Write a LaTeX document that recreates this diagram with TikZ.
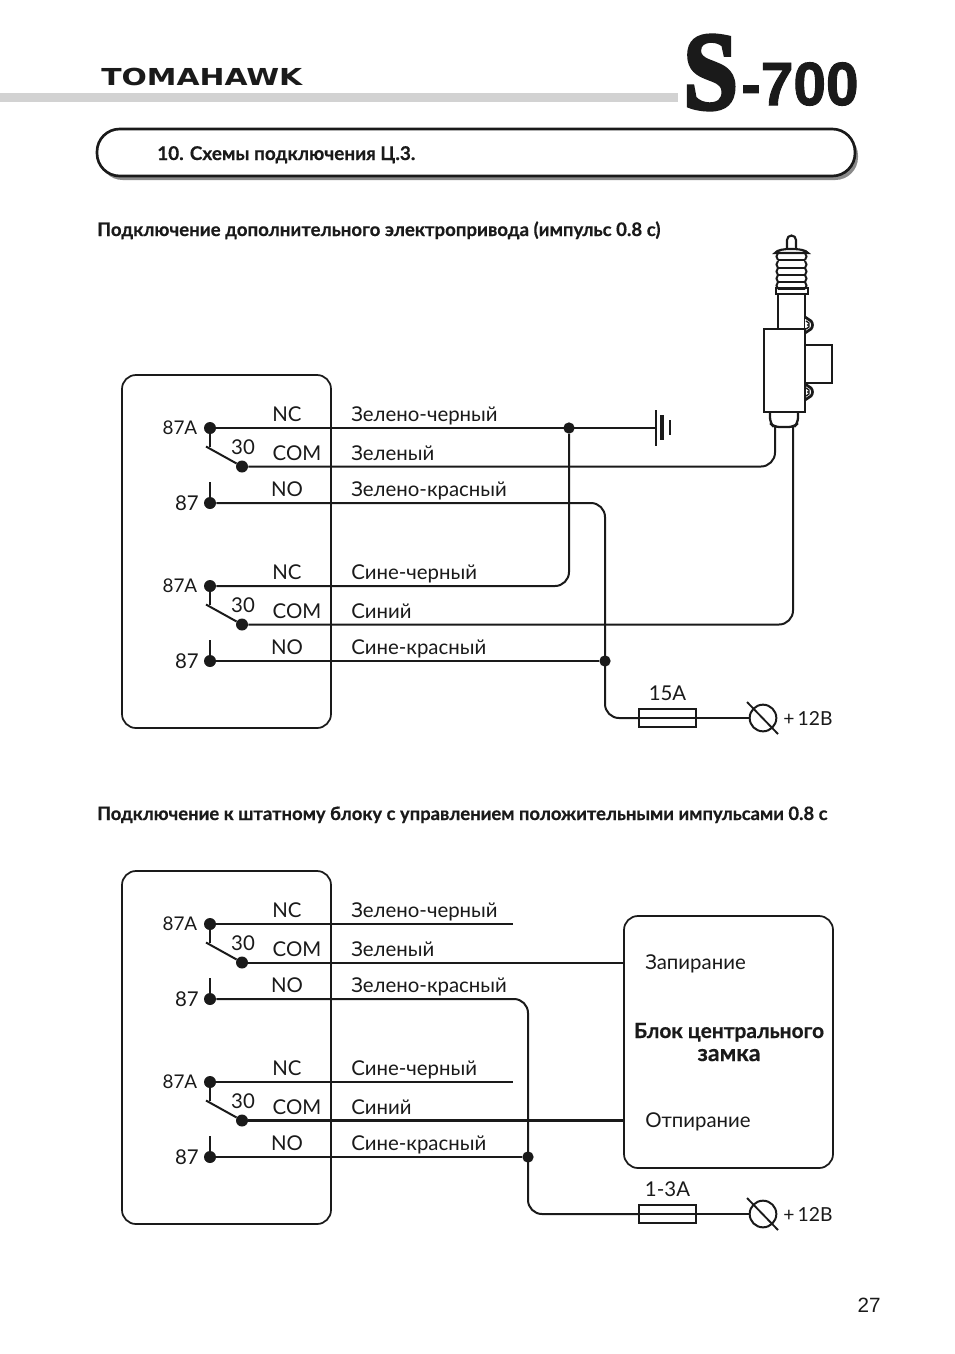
\documentclass[tikz,border=0pt]{standalone}
\usepackage{fontspec}
\setmainfont{Lato}
\newfontfamily\hdfont{Lato}[BoldFeatures={FakeBold=0.5}]
\newfontfamily\serfont{Liberation Serif}[BoldFeatures={FakeBold=3.5}]
\newfontfamily\arfont{Liberation Sans}[BoldFeatures={FakeBold=1.5}]
\newfontfamily\pgfont{Liberation Sans}
\newfontfamily\widefont{DejaVu Sans}
\newcommand{\fitw}[2]{\resizebox{#1pt}{!}{#2}}
\definecolor{ink}{HTML}{1A1A1A}
\definecolor{barg}{HTML}{D2D2D2}
\definecolor{shad}{HTML}{8A8A8A}
\tikzset{
  wire/.style={draw=ink,line width=1.5pt,rounded corners=10.5pt},
  hwire/.style={draw=ink,line width=2.1pt,rounded corners=10.5pt},
  body/.style={draw=ink,line width=1.3pt},
  lab/.style={inner sep=0pt,text=ink,font=\fontsize{15.3}{18}\selectfont},
  wl/.style={lab,anchor=base west},
  dot/.style={circle,fill=ink,inner sep=0pt,minimum size=9pt},
  sdot/.style={circle,fill=ink,inner sep=0pt,minimum size=8.5pt},
  fuse/.style={draw=ink,line width=1.3pt,fill=none,inner sep=0pt,minimum width=42.5pt,minimum height=14pt},
  term/.style={circle,draw=ink,line width=1.5pt,inner sep=0pt,minimum size=20pt},
  head/.style={inner sep=0pt,anchor=base west,text=ink},
}
\newcommand{\relay}[4]{%
  \begin{scope}[shift={(0,#2)}]
    \node[dot] (#1a) at (210,0) {};
    \node[dot] (#1c) at (242,38.5) {};
    \node[dot] (#1o) at (210,75) {};
    \coordinate (#1s) at (210,19);
    \coordinate (#1t) at (206,18.5);
    \coordinate (#1n) at (210,54);
    \draw[wire] (#1a) -- (#1s);
    \draw[wire] (#1t) -- (#1c);
    \draw[wire] (#1o) -- (#1n);
    \node[lab,anchor=east] (#1l87a) at (197.5,0) {\fitw{26}{87A}};
    \node[lab] (#1l30) at (243,19) {30};
    \node[lab,anchor=east] (#1l87) at (199,75.5) {87};
    \node[lab] (#1nc) at (287,-14) {NC};
    \node[lab] (#1com) at (297,25) {COM};
    \node[lab] (#1no) at (287,61) {NO};
    \node[wl] (#1w1) at (351,-7) {#3};
    \node[wl] (#1w2) at (351,32) {#4};
  \end{scope}
}
\begin{document}
\begin{tikzpicture}[x=0.75pt,y=-0.75pt]
\useasboundingbox (0,0) rectangle (954,1354);
\fill[white] (0,0) rectangle (954,1354);
% header
\fill[barg] (0,93) rectangle (678,102);
\node[inner sep=0pt,anchor=west,font=\widefont\bfseries,text=ink] (brand) at (101,77) {\resizebox{150.75pt}{13pt}{TOMAHAWK}};
\node[inner sep=0pt,anchor=west,text=ink] (logoS) at (683,72.5) {\resizebox{41pt}{55pt}{\serfont\bfseries S}};
\node[inner sep=0pt,anchor=west,text=ink] (logoN) at (741,84) {\resizebox{88pt}{32pt}{\arfont\bfseries -700}};
% title pill
\fill[shad,rounded corners=17pt] (100,133) rectangle (858,180);
\draw[draw=ink,fill=white,line width=2pt,rounded corners=17pt] (97,129) rectangle (855,176);
\node[head,font=\hdfont\bfseries] (title) at (157,160) {\fitw{193.5}{10. Схемы подключения Ц.3.}};
% headings
\node[head,font=\hdfont\bfseries] (h1) at (97,236) {\fitw{422.25}{Подключение дополнительного электропривода (импульс 0.8 с)}};
\node[head,font=\hdfont\bfseries] (h2) at (97,820) {\fitw{547.5}{Подключение к штатному блоку с управлением положительными импульсами 0.8 с}};
% blocks
\node[body,rounded corners=10.5pt,minimum width=156.75pt,minimum height=264.75pt,inner sep=0pt] (b1) at (226.5,551.5) {};
\node[body,rounded corners=10.5pt,minimum width=156.75pt,minimum height=264.75pt,inner sep=0pt] (b2) at (226.5,1047.5) {};
\node[body,rounded corners=10.5pt,minimum width=156.75pt,minimum height=189pt,inner sep=0pt] (b3) at (728.5,1042) {};
% relays
\relay{A}{428}{Зелено-черный}{Зеленый}
\node[wl] (Aw3) at (351,496) {Зелено-красный};
\relay{B}{586}{Сине-черный}{Синий}
\node[wl] (Bw3) at (351,654.5) {Сине-красный};
\relay{C}{924}{Зелено-черный}{Зеленый}
\node[wl] (Cw3) at (351,992) {Зелено-красный};
\relay{D}{1082}{Сине-черный}{Синий}
\node[wl] (Dw3) at (351,1150.5) {Сине-красный};
% upper wiring
\node[sdot] (j1) at (569,428) {};
\node[sdot] (j2) at (605,661) {};
\coordinate (gnd) at (656,428);
\draw[wire] (Aa) -- (gnd);
\draw[wire] (j1) |- (Ba);
\draw[wire,line width=1.2pt] (656,410) -- (656,446);
\draw[draw=ink,line width=2.6pt] (662,415) -- (662,440);
\draw[draw=ink,line width=1.6pt] (670,420) -- (670,435);
% actuator
\coordinate (act1) at (775,427);
\coordinate (act2) at (793,427);
\draw[wire] (Ac) -| (act1);
\draw[wire] (Bc) -| (act2);
\draw[body,line width=1.7pt,rounded corners=4pt] (770,412) -- (770,423) -- (774,427) -- (794,427) -- (798,423) -- (798,412);
\draw[body,line width=2pt] (778,329) -- (778,294) -- (805,294) -- (805,329);
\draw[body,line width=2pt] (776,288) rectangle (808,294);
\foreach \ey in {325,392}{
  \draw[draw=ink,line width=2pt,fill=white] (805,\ey-8) -- (811,\ey-4) .. controls (813,\ey-2) and (813,\ey+2) .. (811,\ey+4) -- (805,\ey+8);
  \draw[draw=ink,line width=1pt] (806,\ey-4) -- (809,\ey-2) -- (809,\ey+2) -- (806,\ey+4);
  \fill[ink] (808,\ey) circle (0.9pt);
}
\draw[body,line width=1.8pt,fill=white] (764,329) rectangle (805,412);
\draw[body,line width=1.8pt] (805,345) -| (832,383) -- (805,383);
% boot
\draw[body,line width=1.6pt] (787,249) -- (787,240) arc[start angle=180,end angle=360,radius=4.5] -- (796,249);
\draw[body,line width=1.6pt,fill=white] (775,253) .. controls (777,250) and (783,249) .. (791,249) .. controls (799,249) and (806,250) .. (808,253) -- cycle;
\foreach \ry in {253,261,268,275,282}{
  \draw[draw=ink,line width=1.5pt] (778,\ry) .. controls (776,\ry+2) and (776,\ry+5) .. (778,\ry+7);
  \draw[draw=ink,line width=1.5pt] (805,\ry) .. controls (807,\ry+2) and (807,\ry+5) .. (805,\ry+7);
  \draw[draw=ink,line width=1.5pt] (778,\ry+7) -- (805,\ry+7);
}
\draw[draw=ink,line width=1.5pt] (778,253) -- (805,253);
% supply upper
\node[fuse] (f1) at (667.5,718) {};
\node[term] (t1) at (763,718) {};
\node[lab,anchor=south] (f1l) at (667.5,701) {15A};
\node[lab,anchor=west] (p1) at (783,718.5) {\fitw{37}{+\,12В}};
\draw[wire] (Ao) -- (605,503) -- (605,718) -- (f1.west);
\draw[wire] (Bo) -- (j2);
\draw[wire] (f1.west) -- (f1.east) -- (t1.west);
\draw[draw=ink,line width=1.4pt] (747,702) -- (778,734);
% lower wiring
\coordinate (n1) at (513,924);
\coordinate (n2) at (513,1082);
\node[sdot] (j3) at (528,1157) {};
\draw[wire] (Ca) -- (n1);
\draw[wire] (Da) -- (n2);
\draw[wire] (Cc) -- (b3.west |- Cc);
\draw[hwire] (Dc) -- (b3.west |- Dc);
\draw[hwire] (Do) -- (j3);
\node[fuse] (f2) at (667.5,1214) {};
\node[term] (t2) at (763,1214) {};
\node[lab,anchor=south] (f2l) at (667.5,1197) {1-3А};
\node[lab,anchor=west] (p2) at (783,1214.5) {\fitw{37}{+\,12В}};
\draw[wire] (Co) -- (528,999) -- (528,1214) -- (f2.west);
\draw[wire] (f2.west) -- (f2.east) -- (t2.west);
\draw[draw=ink,line width=1.4pt] (747,1198) -- (778,1230);
\node[wl] (zap) at (645,969) {Запирание};
\node[wl] (otp) at (645,1127) {Отпирание};
\node[inner sep=0pt,anchor=base,font=\hdfont\bfseries,text=ink] (bk1) at (729,1038) {\fitw{142.5}{Блок центрального}};
\node[inner sep=0pt,anchor=base,font=\hdfont\bfseries,text=ink] (bk2) at (729,1061) {\fitw{47.25}{замка}};
% page number
\node[inner sep=0pt,font=\pgfont\fontsize{15.5}{18}\selectfont,text=ink] (pg) at (869,1305) {27};
\end{tikzpicture}
\end{document}
